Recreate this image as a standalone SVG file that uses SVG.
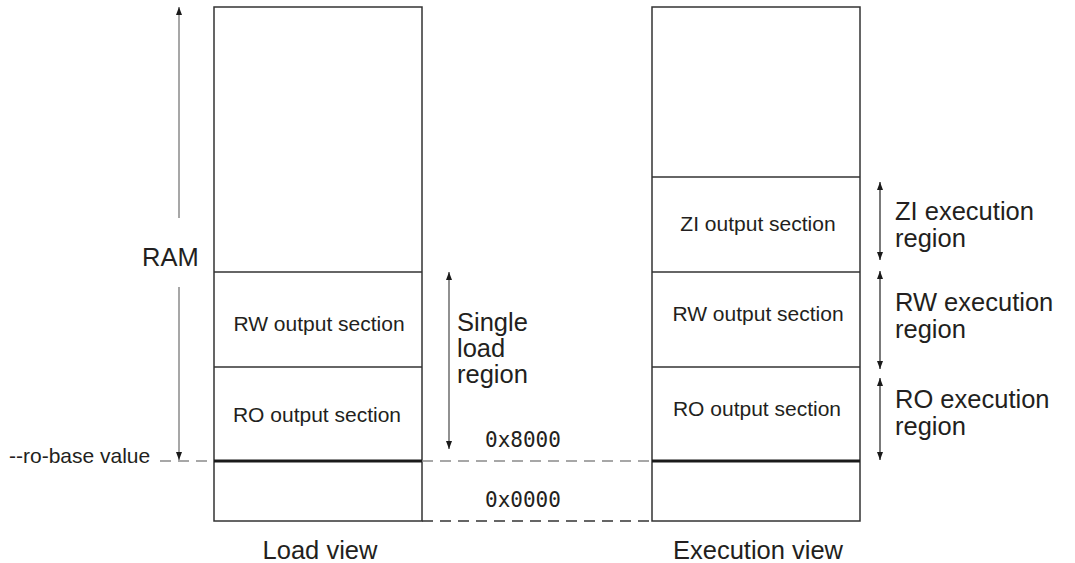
<svg xmlns="http://www.w3.org/2000/svg" width="1075" height="563" viewBox="0 0 1075 563">
  <style>
    .box { fill: #ffffff; stroke: #333333; stroke-width: 1.5; }
    .div { stroke: #333333; stroke-width: 1.5; }
    .base { stroke: #1a1a1a; stroke-width: 3; }
    .sec { font-family: "Liberation Sans", Arial, sans-serif; font-size: 21px; fill: #231f20; text-anchor: middle; }
    .lbl { font-family: "Liberation Sans", Arial, sans-serif; font-size: 25.5px; fill: #231f20; }
    .mid { text-anchor: middle; }
    .addr { font-family: "DejaVu Sans Mono", "Liberation Mono", monospace; font-size: 21px; fill: #231f20; }
    .dash-g { stroke: #8a8a8a; stroke-width: 1.5; stroke-dasharray: 11 7; fill: none; }
    .dash-k { stroke: #333333; stroke-width: 1.5; stroke-dasharray: 11 7; fill: none; }
    .arr-g { stroke: #8a8a8a; stroke-width: 1.5; fill: none; marker-end: url(#head); }
    .arr-m { stroke: #555555; stroke-width: 1.3; fill: none; marker-start: url(#head); marker-end: url(#head); }
    .arr-k { stroke: #333333; stroke-width: 1.3; fill: none; marker-start: url(#head); marker-end: url(#head); }
  </style>
  <defs>
    <marker id="head" viewBox="0 0 8 6" refX="8" refY="3" markerWidth="8" markerHeight="6" markerUnits="userSpaceOnUse" orient="auto-start-reverse">
      <path d="M0,0 L8,3 L0,6 z" fill="#1a1a1a"/>
    </marker>
  </defs>

  <rect width="1075" height="563" fill="#ffffff"/>

  <!-- Load view memory column -->
  <g id="load-view">
    <rect class="box" x="214" y="7" width="208" height="514"/>
    <line class="div" x1="214" y1="272" x2="422" y2="272"/>
    <line class="div" x1="214" y1="367" x2="422" y2="367"/>
    <line class="base" x1="214" y1="461" x2="422" y2="461"/>
    <text class="sec" x="319" y="331">RW output section</text>
    <text class="sec" x="317" y="422">RO output section</text>
    <text class="lbl mid" x="320" y="559">Load view</text>
  </g>

  <!-- Execution view memory column -->
  <g id="execution-view">
    <rect class="box" x="652" y="7" width="208" height="514"/>
    <line class="div" x1="652" y1="177" x2="860" y2="177"/>
    <line class="div" x1="652" y1="272" x2="860" y2="272"/>
    <line class="div" x1="652" y1="367" x2="860" y2="367"/>
    <line class="base" x1="652" y1="461" x2="860" y2="461"/>
    <text class="sec" x="758" y="231">ZI output section</text>
    <text class="sec" x="758" y="321">RW output section</text>
    <text class="sec" x="757" y="416">RO output section</text>
    <text class="lbl mid" x="758" y="559">Execution view</text>
  </g>

  <!-- Labels -->
  <g id="ram-label">
    <text class="lbl" x="142" y="266">RAM</text>
  </g>
  <g id="ro-base-label">
    <text class="lbl" x="9" y="463" style="font-size:21px">--ro-base value</text>
  </g>
  <g id="single-load-region">
    <text class="lbl" x="457" y="331">Single</text>
    <text class="lbl" x="457" y="357">load</text>
    <text class="lbl" x="457" y="383">region</text>
  </g>
  <g id="addresses">
    <text class="addr" x="485" y="447">0x8000</text>
    <text class="addr" x="485" y="507">0x0000</text>
  </g>
  <g id="zi-region">
    <text class="lbl" x="895" y="220">ZI execution</text>
    <text class="lbl" x="895" y="247">region</text>
  </g>
  <g id="rw-region">
    <text class="lbl" x="895" y="311">RW execution</text>
    <text class="lbl" x="895" y="338">region</text>
  </g>
  <g id="ro-region">
    <text class="lbl" x="895" y="408">RO execution</text>
    <text class="lbl" x="895" y="435">region</text>
  </g>

  <!-- Connectors -->
  <g id="connectors">
    <line class="dash-g" x1="160" y1="461" x2="214" y2="461"/>
    <line class="dash-g" x1="422" y1="461" x2="652" y2="461"/>
    <line class="dash-k" x1="422" y1="521" x2="652" y2="521"/>
    <line class="arr-g" x1="179" y1="218" x2="179" y2="7"/>
    <line class="arr-g" x1="179" y1="287" x2="179" y2="460"/>
    <line class="arr-m" x1="449" y1="272" x2="449" y2="449"/>
    <line class="arr-k" x1="880" y1="182" x2="880" y2="260"/>
    <line class="arr-k" x1="880" y1="271" x2="880" y2="369"/>
    <line class="arr-k" x1="880" y1="378" x2="880" y2="460"/>
  </g>
</svg>
